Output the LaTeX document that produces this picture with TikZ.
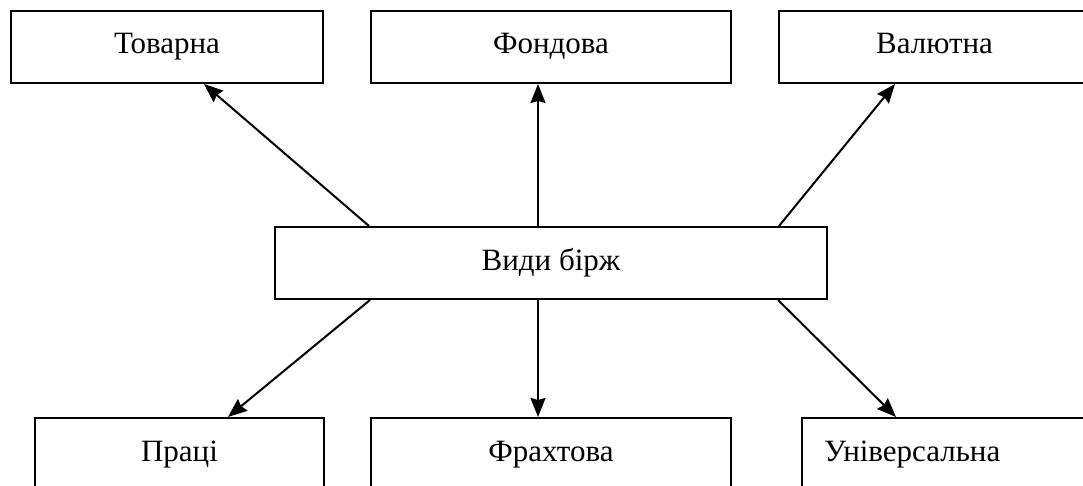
\documentclass[tikz,border=0pt]{standalone}
\usepackage{fontspec}
\setmainfont{Liberation Serif}
\usetikzlibrary{arrows.meta}

\tikzset{
  box/.style={draw=black, line width=2pt, minimum height=72pt, inner sep=0pt,
    text height=21pt, text depth=7pt, font=\fontsize{31}{36}\selectfont},
  link/.style={black, line width=2pt, -{Stealth[length=19pt,width=15pt,inset=2pt]}}
}

\begin{document}
\begin{tikzpicture}[x=1pt, y=-1pt]
\clip (0, 0) rectangle (1083, 486);

% upper row
\node [box, minimum width=312pt] (tovarna) at (167, 47) {Товарна};
\node [box, minimum width=360pt] (fondova) at (551, 47) {Фондова};
\node [box, minimum width=311pt] (valiutna) at (934.5, 47) {Валютна};

\node [box, minimum width=552pt] (vydy) at (551, 263) {Види бірж};

% lower row
\node [box, minimum width=289pt] (pratsi) at (179.5, 454) {Праці};
\node [box, minimum width=360pt] (frakhtova) at (551, 454) {Фрахтова};
\node [box, anchor=west, inner xsep=22pt, text width=256pt, align=left] (universalna) at (801, 454) {Універсальна};

\draw [link] ([xshift=95pt]vydy.north west) -- ([xshift=194pt]tovarna.south west);
\draw [link] ([xshift=264pt]vydy.north west) -- ([xshift=168pt]fondova.south west);
\draw [link] ([xshift=505pt]vydy.north west) -- ([xshift=117pt]valiutna.south west);
\draw [link] ([xshift=96pt]vydy.south west) -- ([xshift=194pt]pratsi.north west);
\draw [link] ([xshift=264pt]vydy.south west) -- ([xshift=168pt]frakhtova.north west);
\draw [link] ([xshift=504pt]vydy.south west) -- ([xshift=95pt]universalna.north west);

\end{tikzpicture}
\end{document}
